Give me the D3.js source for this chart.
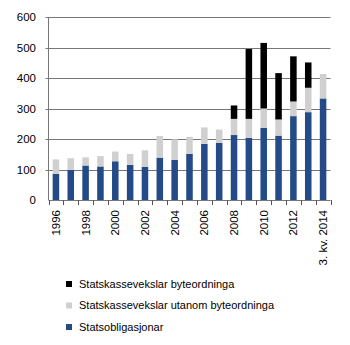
<!DOCTYPE html>
<html><head><meta charset="utf-8">
<script src="https://cdn.jsdelivr.net/npm/d3@7"></script>
<style>body{margin:0;background:#fff}svg{display:block}text{font-family:"Liberation Sans",Arial,sans-serif;fill:#000}</style>
</head><body><svg id="c" width="350" height="345"></svg>
<script>
const categories = ["1996","1997","1998","1999","2000","2001","2002","2003","2004","2005","2006","2007","2008","2009","2010","2011","2012","2013","3. kv. 2014"];
const tickLabels = ["1996","1998","2000","2002","2004","2006","2008","2010","2012","3. kv. 2014"];
const statsobligasjonar = [86,99,113,110,127,115,109,139,132,151,184,187,213,204,237,211,275,288,333];
const utanomByteordninga = [47,38,27,34,32,36,54,71,67,56,54,44,53,62,63,53,48,80,80];
const byteordninga = [0,0,0,0,0,0,0,0,0,0,0,0,44,229,215,152,148,83,0];
const yTicks = [0,100,200,300,400,500,600];
const seriesNames = ["Statsobligasjonar","Statskassevekslar utanom byteordninga","Statskassevekslar byteordninga"];
const colors = ["#244b87","#d0d0d0","#000000"];

const svg = d3.select("#c");
const m = {l:48.5, r:330.5, t:17, b:200};
const x = d3.scaleBand().domain(categories).range([m.l, m.r]).paddingInner(0.56).paddingOuter(0.28);
const y = d3.scaleLinear().domain([0,600]).range([m.b, m.t]);

const rows = categories.map((c,i)=>({cat:c, s0:statsobligasjonar[i], s1:utanomByteordninga[i], s2:byteordninga[i]}));
const stack = d3.stack().keys(["s0","s1","s2"])(rows);

// gridlines
svg.append("g").selectAll("line").data(yTicks.filter(d=>d>0)).join("line")
  .attr("x1", m.l-3).attr("x2", m.r).attr("y1", d=>Math.round(y(d))+0.5).attr("y2", d=>Math.round(y(d))+0.5)
  .attr("stroke", "#777").attr("stroke-width", 1);

// y labels
svg.append("g").selectAll("text").data(yTicks).join("text")
  .attr("x", 36).attr("y", d=>y(d)).attr("dy","0.35em").attr("text-anchor","end")
  .style("font-size","11.5px").text(d=>d);

// bars
svg.append("g").selectAll("g").data(stack).join("g").attr("fill",(d,i)=>colors[i])
  .selectAll("rect").data(d=>d.filter(p=>p[1]-p[0]>0)).join("rect")
  .attr("x", d=>x(d.data.cat)).attr("width", x.bandwidth())
  .attr("y", d=>y(d[1])).attr("height", d=>y(d[0])-y(d[1]));

// y axis line
svg.append("line").attr("x1", m.l).attr("x2", m.l).attr("y1", m.t).attr("y2", m.b)
  .attr("stroke","#777");
// x axis
const step = x.step();
const bounds = d3.range(categories.length+1).map(i=>x.range()[0] + i*step);
svg.append("line").attr("x1", m.l).attr("x2", m.r).attr("y1", m.b+0.5).attr("y2", m.b+0.5).attr("stroke","#777");
svg.append("g").selectAll("line").data(bounds).join("line")
  .attr("x1", d=>Math.round(d)+0.5).attr("x2", d=>Math.round(d)+0.5).attr("y1", m.b).attr("y2", m.b+5)
  .attr("stroke","#555");

// x labels
svg.append("g").selectAll("text").data(tickLabels).join("text")
  .attr("transform", d=>`translate(${x(d)+x.bandwidth()/2},${m.b+10}) rotate(-90)`)
  .attr("dy","0.35em").attr("text-anchor","end").style("font-size","11.5px").text(d=>d);

// legend
const leg = [
  {name:seriesNames[2], color:colors[2]},
  {name:seriesNames[1], color:colors[1]},
  {name:seriesNames[0], color:colors[0]}
];
const lg = svg.append("g").selectAll("g").data(leg).join("g")
  .attr("transform",(d,i)=>`translate(66,${284 + i*21.5})`);
lg.append("rect").attr("x",0).attr("y",-3).attr("width",6).attr("height",6).attr("fill",d=>d.color);
lg.append("text").attr("x",13).attr("dy","0.35em").style("font-size","11px").text(d=>d.name);
</script></body></html>
